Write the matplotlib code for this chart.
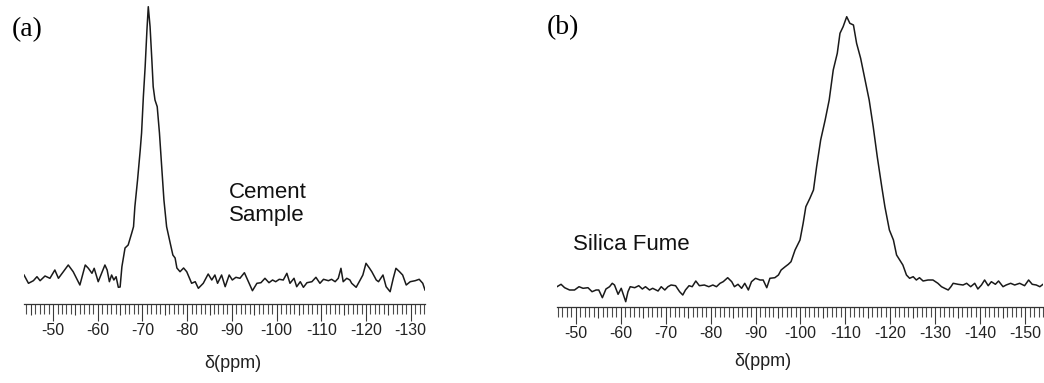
import matplotlib
matplotlib.use('Agg')
import matplotlib.pyplot as plt
from matplotlib.ticker import FixedLocator, FuncFormatter
import numpy as np

plt.rcParams['font.family'] = ['Liberation Sans', 'DejaVu Sans']

# (a) cement sample, chemical shift (ppm) and intensity (arb. units)
ppm_a = [-43.5, -44.5, -45.6, -46.4, -47.1, -48.2, -49.3, -50.4, -51.2, -52.3,
         -53.4, -54.5, -56.0, -57.2, -57.9, -58.7, -59.2, -60.1, -61.6, -62.1,
         -62.6, -63.1, -63.6, -64.1, -64.6, -65.0, -65.4, -66.1, -66.8, -67.6,
         -68.0, -68.3, -68.9, -69.5, -69.8, -70.2, -70.6, -71.0, -71.3, -71.7,
         -72.1, -72.4, -72.8, -73.3, -73.8, -74.3, -74.8, -75.4, -76.2, -76.8,
         -77.3, -77.7, -78.4, -79.2, -79.9, -81.0, -81.8, -82.5, -83.6, -84.7,
         -85.5, -86.2, -86.8, -87.7, -88.5, -89.4, -90.1, -90.9, -91.8, -92.8,
         -93.7, -94.6, -95.6, -96.5, -97.4, -98.3, -99.1, -99.8, -100.6, -101.5,
         -102.3, -103.0, -103.9, -104.5, -105.3, -106.0, -106.8, -107.9, -108.8, -109.7,
         -110.5, -111.6, -112.3, -113.1, -113.8, -114.4, -114.9, -115.7, -116.4, -116.8,
         -117.8, -118.7, -119.3, -120.0, -120.8, -121.3, -122.3, -122.8, -123.8, -124.5,
         -125.4, -126.1, -126.7, -127.5, -128.2, -129.0, -129.9, -131.0, -131.9, -132.7,
         -133.2]
int_a = [29, 20.7, 23.3, 27.3, 23.3, 28, 25.7, 34, 25.7, 32.3,
         39, 32.3, 19, 39, 35.7, 30.7, 35.7, 22.3, 39, 34,
         22.3, 29, 24, 27.3, 16.7, 17, 37.3, 56, 59, 71,
         77.3, 97.3, 124, 154, 171, 207.3, 237.3, 274, 297.3, 277.3,
         244, 217.3, 204, 197.3, 171, 137.3, 104, 77.3, 61, 49,
         46, 36, 32.3, 36, 32.3, 20.7, 22.3, 15.7, 20.7, 30,
         24, 29, 20.7, 29, 17.3, 29, 24, 26.7, 25.7, 31.3,
         22.3, 13.3, 20.7, 21.3, 25.7, 21.3, 24, 22.3, 24.7, 24,
         30.7, 20.7, 25.7, 17.3, 22.3, 16.7, 21.3, 22.3, 26.7, 20.7,
         24.7, 23.3, 24.7, 22.3, 25.7, 35.7, 22.3, 25.7, 24, 20.7,
         16.7, 24, 29, 40.7, 35.7, 32.3, 24, 22.3, 29, 17.3,
         12.3, 25.7, 35.7, 32.3, 29, 19, 22.3, 23.3, 24.7, 20.7,
         14]

# (b) silica fume
ppm_b = [-45.8, -46.7, -47.5, -48.6, -49.7, -50.7, -51.6, -52.7, -53.6, -54.5,
         -55.1, -55.9, -56.7, -57.5, -58.1, -58.6, -59.4, -60.1, -60.6, -61.1,
         -61.6, -62.1, -63.1, -64.0, -64.8, -65.5, -66.4, -67.1, -68.3, -69.0,
         -69.8, -70.5, -71.2, -72.2, -73.1, -73.8, -74.4, -75.2, -75.9, -76.7,
         -77.5, -78.6, -79.6, -80.5, -81.3, -82.1, -82.8, -83.8, -84.7, -85.3,
         -86.1, -86.9, -87.6, -88.4, -89.1, -90.0, -91.0, -91.7, -92.5, -93.2,
         -94.3, -95.1, -95.7, -96.6, -97.3, -97.9, -98.8, -99.9, -100.6, -101.2,
         -102.1, -102.9, -103.6, -104.5, -105.5, -106.4, -107.3, -108.2, -108.8, -109.5,
         -110.3, -111.0, -111.8, -112.5, -113.4, -114.4, -115.3, -116.2, -117.1, -118.1,
         -118.8, -119.8, -120.7, -121.4, -122.8, -123.6, -124.3, -125.1, -125.8, -126.5,
         -127.3, -128.4, -129.5, -130.6, -131.4, -132.1, -132.9, -133.5, -134.0, -135.1,
         -136.2, -137.0, -137.9, -138.8, -139.5, -140.3, -141.0, -141.8, -142.5, -143.4,
         -144.1, -145.1, -145.8, -146.8, -147.7, -148.8, -149.9, -150.8, -151.6, -152.5,
         -153.3, -154.0]
int_b = [20.3, 22.7, 19.3, 17, 17, 20.3, 18.7, 19.3, 15.3, 17,
         17, 9.3, 18, 20.3, 23.7, 22, 12.7, 18.7, 12, 5.3,
         15.3, 20.3, 19.3, 21.3, 18, 20.3, 17, 18.7, 16, 20.3,
         17, 20.3, 22, 21.3, 15.3, 12, 17, 21.3, 20.3, 26,
         21.3, 22, 20.3, 22, 20.3, 23.7, 25.3, 29.3, 25.3, 20.3,
         22.7, 18.7, 23.7, 17, 25.3, 28.7, 27, 27, 19.3, 28.7,
         29.3, 32, 37, 40.3, 42.7, 45.3, 57, 67, 83.7, 100.3,
         108.7, 117, 140.3, 167, 187, 207, 237, 253.7, 273.7, 280.3,
         290.3, 283.7, 282, 263.7, 248.7, 227, 207, 180.3, 150.3, 120.3,
         100.3, 77, 67, 52, 42, 32, 28.7, 30.3, 27, 29.3,
         26, 27, 27, 23.7, 20.3, 18.7, 17, 20.3, 23.7, 22.7,
         22, 23.7, 20.3, 23.7, 18, 22, 27, 21.3, 25.3, 22.7,
         26, 20.3, 22, 23.7, 22, 23.7, 21.3, 27, 22.7, 22,
         20.3, 22.7]

W, H = 1044, 383
fig = plt.figure(figsize=(W / 100, H / 100), dpi=100)


def spectrum_axes(left, right, base, top, xlim, ppm, inten):
    ax = fig.add_axes([left / W, 1 - base / H, (right - left) / W, (base - top) / H])
    ax.plot(ppm, inten, color='#1a1a1a', lw=1.1)
    ax.set_xlim(*xlim)
    ax.set_ylim(0, 300)
    for s in ['top', 'left', 'right']:
        ax.spines[s].set_visible(False)
    ax.spines['bottom'].set_color('#333333')
    ax.spines['bottom'].set_linewidth(0.9)
    ax.set_yticks([])
    lo, hi = int(np.ceil(xlim[1])), int(np.floor(xlim[0]))
    locs = [v for v in range(lo, hi + 1) if v % 5 == 0]
    ax.xaxis.set_major_locator(FixedLocator(locs))
    ax.xaxis.set_minor_locator(FixedLocator([v for v in range(lo, hi + 1) if v % 5 != 0]))
    ax.xaxis.set_major_formatter(FuncFormatter(lambda v, p: f'{v:.0f}' if round(v) % 10 == 0 else ''))
    ax.tick_params(which='major', length=12, width=0.8, color='#3a3a3a', pad=1.5,
                   labelsize=11.5, labelcolor='#222222')
    ax.tick_params(which='minor', length=7, width=0.8, color='#4a4a4a')
    ticks = ax.xaxis.get_major_ticks(len(locs))
    for t, v in zip(ticks, locs):
        if v % 10 != 0:
            t.tick1line.set_markersize(8)
    return ax


ax_a = spectrum_axes(24, 425, 304, 4, (-43.5, -133.2), ppm_a, int_a)
ax_b = spectrum_axes(557, 1043, 307, 7, (-45.8, -154.0), ppm_b, int_b)

fig.text(233 / W, 1 - 363 / H, 'δ(ppm)', ha='center', va='center', fontsize=13, color='#222222')
fig.text(763 / W, 1 - 361 / H, 'δ(ppm)', ha='center', va='center', fontsize=13, color='#222222')

fig.text(229 / W, 1 - 204 / H, 'Cement\nSample', ha='left', va='center', fontsize=16,
         linespacing=1.15, color='#111111')
fig.text(573 / W, 1 - 245 / H, 'Silica Fume', ha='left', va='center', fontsize=16, color='#111111')

fig.text(12 / W, 1 - 30 / H, '(a)', ha='left', va='center', fontsize=20,
         family=['Liberation Serif', 'DejaVu Serif'])
fig.text(547 / W, 1 - 28 / H, '(b)', ha='left', va='center', fontsize=20,
         family=['Liberation Serif', 'DejaVu Serif'])

fig.savefig('out.png', dpi=100)
